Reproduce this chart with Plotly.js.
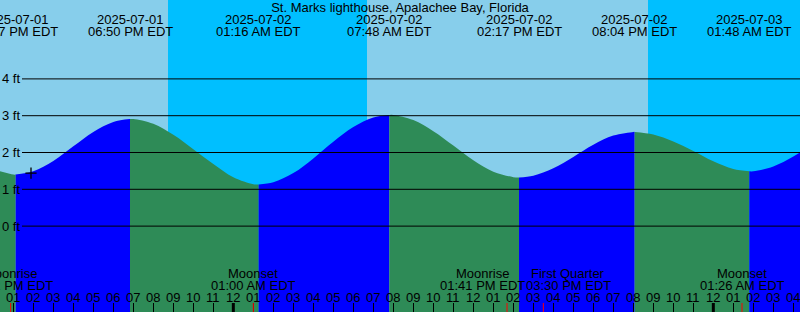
<!DOCTYPE html>
<html><head><meta charset="utf-8">
<script src="https://cdn.plot.ly/plotly-3.0.1.min.js"></script>
<style>html,body{margin:0;padding:0;background:#87CEEB;overflow:hidden}#chart{width:800px;height:312px}</style>
</head><body><div id="chart"></div>
<script>
// ---- data ----
const titleText = "St. Marks lighthouse, Apalachee Bay, Florida";

// hourly tide readings (ft), starting 2025-07-01 12:00, one per hour
const hourlyStart = "2025-07-01 12:00";
const hourlyHeights = [1.54,1.40,1.49,1.77,2.17,2.56,2.83,2.91,2.78,2.48,2.09,1.69,
  1.33,1.14,1.19,1.44,1.84,2.29,2.69,2.95,3.02,2.88,2.58,2.19,1.79,1.48,1.33,1.37,
  1.57,1.88,2.21,2.46,2.56,2.49,2.30,2.04,1.76,1.55,1.49,1.62,1.89,2.23];

// high / low tide events
const tideEventTimes = ["2025-07-01 13:07","2025-07-01 18:50","2025-07-02 01:16","2025-07-02 07:48","2025-07-02 14:17","2025-07-02 20:04","2025-07-03 01:48"];
const tideEventHeights = [1.40,2.91,1.13,3.02,1.32,2.56,1.49];
const tideEventDates = ["2025-07-01","2025-07-01","2025-07-02","2025-07-02","2025-07-02","2025-07-02","2025-07-03"];
const tideEventLabels = ["01:07 PM EDT","06:50 PM EDT","01:16 AM EDT","07:48 AM EDT","02:17 PM EDT","08:04 PM EDT","01:48 AM EDT"];

// moon events
const moonTimes = ["2025-07-01 12:52","2025-07-02 01:00","2025-07-02 13:41","2025-07-02 15:30","2025-07-03 01:26"];
const moonNames = ["Moonrise","Moonset","Moonrise","First Quarter","Moonset"];
const moonLabels = ["12:52 PM EDT","01:00 AM EDT","01:41 PM EDT","03:30 PM EDT","01:26 AM EDT"];

// night periods (sunset -> sunrise)
const nightStarts = ["2025-07-01 20:44","2025-07-02 20:44"];
const nightEnds = ["2025-07-02 06:41","2025-07-03 06:41"];

// current-time mark
const nowTime = ["2025-07-01 13:53"];
const nowHeight = [1.44];

// axis levels and hour ticks
const levels = [0,1,2,3,4];
const levelLabels = ["0 ft","1 ft","2 ft","3 ft","4 ft"];
const tickStart = "2025-07-01 13:00";
const tickLabels = ["01","02","03","04","05","06","07","08","09","10","11","12",
  "01","02","03","04","05","06","07","08","09","10","11","12",
  "01","02","03","04","05","06","07","08","09","10","11","12",
  "01","02","03","04"];
const midnights = ["2025-07-02 00:00","2025-07-03 00:00"];
const xRange = ["2025-07-01 12:20:00","2025-07-03 04:20:00"];
const yRange = [-2.334, 6.144];

// ---- helpers ----
function toMs(str){
  const [d,t] = str.split(' ');
  const [Y,M,D] = d.split('-').map(Number);
  const [h,m,s] = t.split(':').map(Number);
  return Date.UTC(Y,M-1,D,h,m,s||0);
}
function addHours(str, n){
  const dt = new Date(toMs(str) + n*3600000);
  const p = v => String(v).padStart(2,'0');
  return dt.getUTCFullYear()+'-'+p(dt.getUTCMonth()+1)+'-'+p(dt.getUTCDate())+' '+p(dt.getUTCHours())+':'+p(dt.getUTCMinutes());
}
const W = 800, H = 312;
const py = Y => (H - Y) / H;
const x0ms = toMs(xRange[0]), x1ms = toMs(xRange[1]);
const px = t => (toMs(t) - x0ms) / (x1ms - x0ms) * W;

// ---- tide fill segments ----
let pts = hourlyHeights.map((v,i)=>({t:addHours(hourlyStart,i), v, ev:false}))
  .concat(tideEventTimes.map((t,i)=>({t, v:tideEventHeights[i], ev:true})));
pts.sort((a,b)=> a.t < b.t ? -1 : a.t > b.t ? 1 : 0);
const segments = [];
let cur = [];
for (const p of pts){
  cur.push(p);
  if (p.ev){ segments.push(cur); cur = [p]; }
}
if (cur.length > 1) segments.push(cur);

const BLUE = '#0000FF', GREEN = '#2E8B57';
const traces = [];
segments.forEach(seg => {
  const xs = seg.map(p=>p.t), ys = seg.map(p=>p.v);
  const rising = ys[ys.length-1] > ys[0];
  traces.push({x: xs, y: xs.map(()=> -3), mode:'lines', line:{width:0}, hoverinfo:'skip', showlegend:false});
  traces.push({x: xs, y: ys, mode:'lines', line:{width:0, shape:'spline', smoothing:1},
    fill:'tonexty', fillcolor: rising ? BLUE : GREEN, hoverinfo:'skip', showlegend:false});
});
traces.push({x: nowTime, y: nowHeight, mode:'markers',
  marker:{symbol:'cross-thin', size:8, line:{width:1.3, color:'#000'}}, showlegend:false, hoverinfo:'skip'});

// ---- shapes ----
const shapes = [];
nightStarts.forEach((s,i)=> shapes.push({type:'rect', xref:'x', yref:'paper', x0:s, x1:nightEnds[i], y0:0, y1:1,
  fillcolor:'#00BFFF', line:{width:0}, layer:'below'}));
levels.forEach(l => shapes.push({type:'line', xref:'paper', yref:'y', x0:22/W, x1:1, y0:l, y1:l,
  line:{color:'#000', width:1}, layer:'above'}));
midnights.forEach(m => shapes.push({type:'line', xref:'x', yref:'paper', x0:m, x1:m, y0:0, y1:9/H,
  line:{color:'#000', width:3}, layer:'above'}));
moonTimes.forEach(m => shapes.push({type:'line', xref:'x', yref:'paper', x0:m, x1:m, y0:0, y1:9/H,
  line:{color:'#FF0000', width:1}, layer:'above'}));

// ---- annotations ----
const ann = [];
const A = (o) => ann.push(Object.assign({showarrow:false, font:{size:13, color:'#000'}}, o));
levels.forEach((l,i)=> A({xref:'paper', yref:'y', x:0, y:l, xanchor:'left', yanchor:'middle', text:levelLabels[i]}));
tideEventTimes.forEach((t,i)=>{
  A({xref:'x', yref:'paper', x:t, y:py(19.5), xanchor:'center', yanchor:'middle', text:tideEventDates[i]});
  A({xref:'x', yref:'paper', x:t, y:py(31.5), xanchor:'center', yanchor:'middle', text:tideEventLabels[i]});
});
// push overlapping moon labels apart (as the reference does)
const LABEL_W = 86;
const moonShift = moonTimes.map(()=>0);
for (let i = 0; i < moonTimes.length - 1; i++){
  const d = px(moonTimes[i+1]) - px(moonTimes[i]);
  if (d < LABEL_W){ const s = (LABEL_W - d)/2; moonShift[i] -= s; moonShift[i+1] += s; }
}
moonTimes.forEach((t,i)=>{
  A({xref:'x', yref:'paper', x:t, y:py(273.3), xanchor:'center', yanchor:'middle', text:moonNames[i], xshift:moonShift[i]});
  A({xref:'x', yref:'paper', x:t, y:py(285.3), xanchor:'center', yanchor:'middle', text:moonLabels[i], xshift:moonShift[i]});
});
const tickTimes = tickLabels.map((_,i)=> addHours(tickStart, i));
tickTimes.forEach((t,i)=> A({xref:'x', yref:'paper', x:t, y:py(297.3), xanchor:'center', yanchor:'middle', text:tickLabels[i]}));

const layout = {
  width:W, height:H, margin:{l:0,r:0,t:0,b:0,pad:0},
  paper_bgcolor:'#87CEEB', plot_bgcolor:'#87CEEB',
  font:{family:'Liberation Sans, Arial, sans-serif', size:13, color:'#000'},
  title:{text:titleText, font:{size:13, color:'#000'}, x:0.5, xanchor:'center', xref:'paper', y:py(7), yanchor:'middle', yref:'container'},
  showlegend:false,
  xaxis:{type:'date', range:xRange, showgrid:false, zeroline:false, showline:false,
    tickmode:'array', tickvals:tickTimes, ticks:'inside', ticklen:9, tickwidth:1, tickcolor:'#000',
    showticklabels:false, fixedrange:true},
  yaxis:{range:yRange, showgrid:false, zeroline:false, showline:false, showticklabels:false, ticks:'', fixedrange:true},
  shapes, annotations: ann
};
Plotly.newPlot('chart', traces, layout, {staticPlot:true, displayModeBar:false});
</script></body></html>
